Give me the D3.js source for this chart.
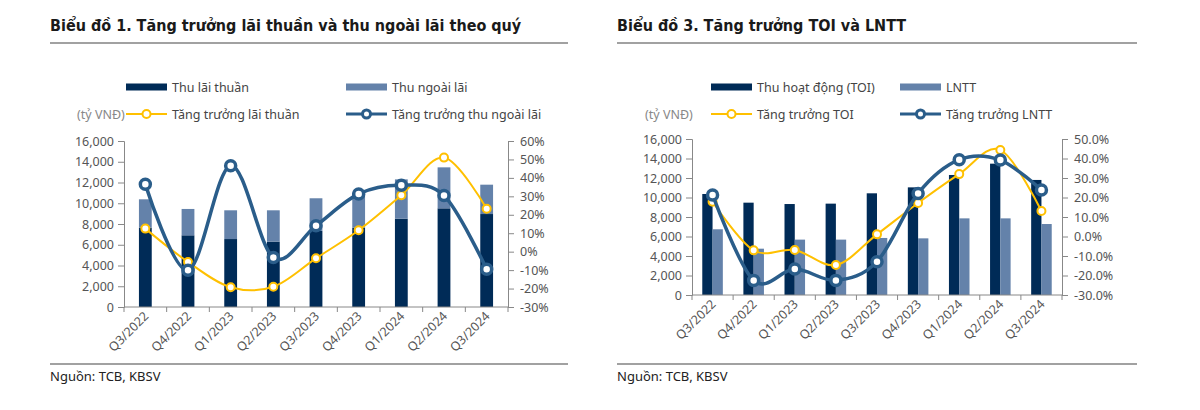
<!DOCTYPE html>
<html>
<head>
<meta charset="utf-8">
<script src="https://cdn.jsdelivr.net/npm/d3@7"></script>
<style>
  body { margin: 0; background: #fff; }
  svg text { font-family: "Noto Sans", "DejaVu Sans", sans-serif; }
  .title { font-family: "DejaVu Sans Condensed", "DejaVu Sans", sans-serif; font-weight: bold; font-size: 16px; fill: #1a1a1a; }
  .tick text { font-size: 12.5px; fill: #555; }
  .legend text { font-size: 12.5px; fill: #444; }
  .source { font-size: 13px; fill: #222; }
</style>
</head>
<body>
<svg id="chart" width="1200" height="410"></svg>
<script>
// ---- data ----
const quarters = ['Q3/2022', 'Q4/2022', 'Q1/2023', 'Q2/2023', 'Q3/2023', 'Q4/2023', 'Q1/2024', 'Q2/2024', 'Q3/2024'];

// Biểu đồ 1 (tỷ VNĐ, %)
const thuLaiThuan   = [7640, 6910, 6550, 6300, 7330, 7640, 8510, 9510, 8960];
const thuNgoaiLai   = [2740, 2540, 2770, 3020, 3150, 3400, 3790, 3950, 2830];
const tangTruongLai = [12.5, -5.6, -19.3, -19.0, -3.6, 11.6, 30.6, 51.0, 23.3];
const tangTruongNgoaiLai = [36.5, -10.1, 46.6, -3.2, 14.1, 31.3, 36.0, 30.4, -9.5];

// Biểu đồ 3 (tỷ VNĐ, %)
const toi  = [10360, 9470, 9330, 9370, 10430, 11040, 12310, 13470, 11800];
const lntt = [6740, 4750, 5680, 5680, 5850, 5810, 7860, 7860, 7280];
const tangTruongTOI  = [17.8, -7.1, -6.9, -14.6, 1.1, 17.2, 32.0, 44.4, 13.1];
const tangTruongLNTT = [21.3, -22.5, -16.7, -22.5, -12.9, 22.1, 39.4, 39.2, 23.8];

const leftTicks = d3.range(0, 16001, 2000);
const rightTicks1 = d3.range(-30, 61, 10);
const rightTicks3 = d3.range(-30, 51, 10);

// ---- styles ----
const C_DARK = '#002b57';
const C_LIGHT = '#6482aa';
const C_YELLOW = '#ffc000';
const C_BLUE = '#2a5d8a';

const svg = d3.select('#chart');

function frame(x0, x1, title) {
    svg.append('text').attr('class', 'title').attr('x', x0).attr('y', 31).text(title);
    svg.append('line').attr('x1', x0).attr('x2', x1).attr('y1', 43).attr('y2', 43)
        .attr('stroke', '#444').attr('stroke-width', 1.2);
    svg.append('line').attr('x1', x0).attr('x2', x1).attr('y1', 364).attr('y2', 364)
        .attr('stroke', '#444').attr('stroke-width', 1.2);
    svg.append('text').attr('class', 'source').attr('x', x0).attr('y', 381).text('Nguồn: TCB, KBSV');
}

function legend(cfg) {
    const g = svg.append('g').attr('class', 'legend');
    const r1 = cfg.row1, r2 = cfg.row2;
    cfg.items.forEach((it) => {
        const y = it.row === 1 ? r1 : r2;
        if (it.type === 'bar') {
            g.append('rect').attr('x', it.x).attr('y', y - 3.5).attr('width', 41).attr('height', 7).attr('fill', it.color);
        } else {
            g.append('line').attr('x1', it.x).attr('x2', it.x + 41).attr('y1', y).attr('y2', y)
                .attr('stroke', it.color).attr('stroke-width', it.sw);
            g.append('circle').attr('cx', it.x + 20.5).attr('cy', y).attr('r', it.r)
                .attr('fill', '#fff').attr('stroke', it.color).attr('stroke-width', it.sw);
        }
        g.append('text').attr('x', it.x + 46).attr('y', y + 4.5).text(it.label);
    });
    g.append('text').attr('x', cfg.unitX).attr('y', r2 + 4.5).style('fill', '#888').text('(tỷ VNĐ)');
}

function axes(g, x, y, y2, w, h, pctFmt) {
    const gx = g.append('g').attr('transform', `translate(0,${h})`);
    gx.append('line').attr('x1', 0).attr('x2', w).attr('stroke', '#888');
    const bounds = d3.range(0, quarters.length + 1).map((i) => i * x.step());
    gx.selectAll('.xt').data(bounds).join('line').attr('class', 'xt')
        .attr('x1', (d) => d).attr('x2', (d) => d).attr('y1', 0).attr('y2', 5).attr('stroke', '#888');
    gx.selectAll('.xl').data(quarters).join('text').attr('class', 'xl')
        .attr('transform', (d) => `translate(${x(d) + x.bandwidth() / 2 + 4},${10}) rotate(-45)`)
        .attr('text-anchor', 'end').attr('font-size', 12.5).attr('fill', '#555').text((d) => d);

    const gy = g.append('g').call(d3.axisLeft(y).tickValues(leftTicks).tickSize(6).tickPadding(4).tickFormat(d3.format(',')));
    gy.select('.domain').attr('stroke', '#888');
    gy.selectAll('.tick line').attr('stroke', '#888');

    const gy2 = g.append('g').attr('transform', `translate(${w},0)`)
        .call(d3.axisRight(y2).tickValues(y2.ticksArr).tickSize(6).tickPadding(6).tickFormat(pctFmt));
    gy2.select('.domain').attr('stroke', '#888');
    gy2.selectAll('.tick line').attr('stroke', '#888');
}

function growthLine(g, x, y2, vals, color, sw, r) {
    const pts = vals.map((v, i) => [x(quarters[i]) + x.bandwidth() / 2, y2(v)]);
    g.append('path').datum(pts)
        .attr('d', d3.line().curve(d3.curveCatmullRom.alpha(0)))
        .attr('fill', 'none').attr('stroke', color).attr('stroke-width', sw);
    g.selectAll(null).data(pts).join('circle')
        .attr('cx', (d) => d[0]).attr('cy', (d) => d[1]).attr('r', r)
        .attr('fill', '#fff').attr('stroke', color).attr('stroke-width', sw);
}

// ---- Biểu đồ 1 ----
(function () {
    frame(50, 568, 'Biểu đồ 1. Tăng trưởng lãi thuần và thu ngoài lãi theo quý');
    legend({
        row1: 87, row2: 114, unitX: 77,
        items: [
            { row: 1, type: 'bar', x: 126, color: C_DARK, label: 'Thu lãi thuần' },
            { row: 1, type: 'bar', x: 346, color: C_LIGHT, label: 'Thu ngoài lãi' },
            { row: 2, type: 'line', x: 126, color: C_YELLOW, sw: 2, r: 4, label: 'Tăng trưởng lãi thuần' },
            { row: 2, type: 'line', x: 346, color: C_BLUE, sw: 3, r: 4, label: 'Tăng trưởng thu ngoài lãi' }
        ]
    });
    const left = 124, top = 141, w = 384, h = 166;
    const g = svg.append('g').attr('transform', `translate(${left},${top})`);
    const x = d3.scaleBand().domain(quarters).range([0, w]).paddingInner(0.7).paddingOuter(0.35);
    const y = d3.scaleLinear().domain([0, 16000]).range([h, 0]);
    const y2 = d3.scaleLinear().domain([-30, 60]).range([h, 0]);
    y2.ticksArr = rightTicks1;

    const bars = g.append('g');
    bars.selectAll('.a').data(quarters).join('rect').attr('class', 'a')
        .attr('x', (d) => x(d)).attr('width', x.bandwidth())
        .attr('y', (d, i) => y(thuLaiThuan[i])).attr('height', (d, i) => h - y(thuLaiThuan[i]))
        .attr('fill', C_DARK);
    bars.selectAll('.b').data(quarters).join('rect').attr('class', 'b')
        .attr('x', (d) => x(d)).attr('width', x.bandwidth())
        .attr('y', (d, i) => y(thuLaiThuan[i] + thuNgoaiLai[i])).attr('height', (d, i) => h - y(thuNgoaiLai[i]))
        .attr('fill', C_LIGHT);

    axes(g, x, y, y2, w, h, (d) => d + '%');
    growthLine(g, x, y2, tangTruongLai, C_YELLOW, 2, 4);
    growthLine(g, x, y2, tangTruongNgoaiLai, C_BLUE, 3.5, 5);
})();

// ---- Biểu đồ 3 ----
(function () {
    frame(617, 1137, 'Biểu đồ 3. Tăng trưởng TOI và LNTT');
    legend({
        row1: 87, row2: 114, unitX: 645,
        items: [
            { row: 1, type: 'bar', x: 711, color: C_DARK, label: 'Thu hoạt động (TOI)' },
            { row: 1, type: 'bar', x: 900, color: C_LIGHT, label: 'LNTT' },
            { row: 2, type: 'line', x: 711, color: C_YELLOW, sw: 2, r: 4, label: 'Tăng trưởng TOI' },
            { row: 2, type: 'line', x: 900, color: C_BLUE, sw: 3, r: 4, label: 'Tăng trưởng LNTT' }
        ]
    });
    const left = 692, top = 139, w = 370, h = 156;
    const g = svg.append('g').attr('transform', `translate(${left},${top})`);
    const x = d3.scaleBand().domain(quarters).range([0, w]).paddingInner(0.5).paddingOuter(0.25);
    const y = d3.scaleLinear().domain([0, 16000]).range([h, 0]);
    const y2 = d3.scaleLinear().domain([-30, 50]).range([h, 0]);
    y2.ticksArr = rightTicks3;
    const half = x.bandwidth() / 2;

    g.selectAll('.a').data(quarters).join('rect').attr('class', 'a')
        .attr('x', (d) => x(d)).attr('width', half)
        .attr('y', (d, i) => y(toi[i])).attr('height', (d, i) => h - y(toi[i]))
        .attr('fill', C_DARK);
    g.selectAll('.b').data(quarters).join('rect').attr('class', 'b')
        .attr('x', (d) => x(d) + half).attr('width', half)
        .attr('y', (d, i) => y(lntt[i])).attr('height', (d, i) => h - y(lntt[i]))
        .attr('fill', C_LIGHT);

    axes(g, x, y, y2, w, h, (d) => d.toFixed(1) + '%');
    growthLine(g, x, y2, tangTruongTOI, C_YELLOW, 2, 4);
    growthLine(g, x, y2, tangTruongLNTT, C_BLUE, 3.5, 5);
})();
</script>
</body>
</html>
